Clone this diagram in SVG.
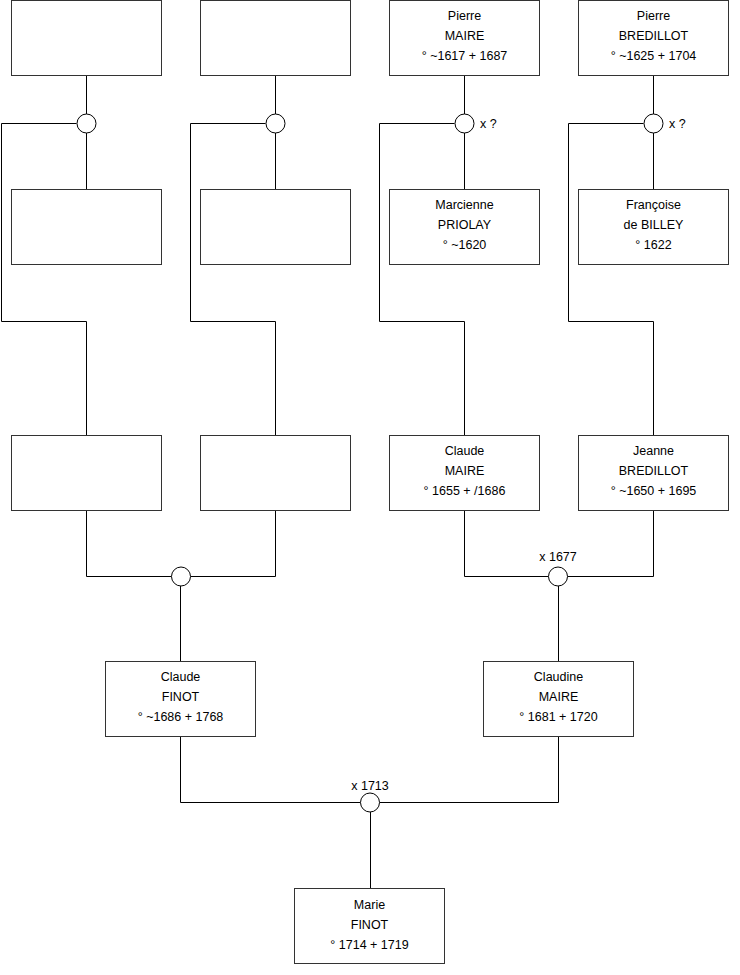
<svg xmlns="http://www.w3.org/2000/svg" width="740" height="975" viewBox="0 0 740 975">
<style>
.box{fill:#fff;stroke:#333;stroke-width:1}
.ln{fill:none;stroke:#000;stroke-width:1}
.ci{fill:#fff;stroke:#000;stroke-width:1}
text{font-family:"Liberation Sans",Arial,sans-serif;font-size:12.5px;fill:#000}
.c{text-anchor:middle}
</style>
<rect width="740" height="975" fill="#fff"/>
<g id="connectors">
<path class="ln" d="M86.5 76V114M86.5 133V189M76.5 123.5H1.5V321.5H86.5V435"/>
<path class="ln" d="M275.5 76V114M275.5 133V189M265.5 123.5H190.5V321.5H275.5V435"/>
<path class="ln" d="M464.5 76V114M464.5 133V189M454.5 123.5H379.5V321.5H464.5V435"/>
<path class="ln" d="M653.5 76V114M653.5 133V189M643.5 123.5H568.5V321.5H653.5V435"/>
<path class="ln" d="M86.5 511V576.5H171.5M190.5 576.5H275.5V511M180.5 586V661"/>
<path class="ln" d="M464.5 511V576.5H548.5M567.5 576.5H653.5V511M558.5 586V661"/>
<path class="ln" d="M180.5 737V802.5H360.5M379.5 802.5H558.5V737M370.5 812V888"/>
<circle class="ci" cx="86.5" cy="123.5" r="9.5"/>
<circle class="ci" cx="275.5" cy="123.5" r="9.5"/>
<circle class="ci" cx="464.5" cy="123.5" r="9.5"/>
<circle class="ci" cx="653.5" cy="123.5" r="9.5"/>
<circle class="ci" cx="181" cy="576.5" r="9.5"/>
<circle class="ci" cx="558" cy="576.5" r="9.5"/>
<circle class="ci" cx="370" cy="802.5" r="9.5"/>
<text x="480" y="128">x ?</text>
<text x="669" y="128">x ?</text>
<text class="c" x="558" y="561">x 1677</text>
<text class="c" x="370" y="790">x 1713</text>
</g>
<g id="n1"><rect class="box" x="11.5" y="0.5" width="150" height="75"/></g>
<g id="n2"><rect class="box" x="200.5" y="0.5" width="150" height="75"/></g>
<g id="n3"><rect class="box" x="389.5" y="0.5" width="150" height="75"/>
<text class="c" x="464.5" y="20">Pierre</text><text class="c" x="464.5" y="40">MAIRE</text><text class="c" x="464.5" y="60">° ~1617 + 1687</text></g>
<g id="n4"><rect class="box" x="578.5" y="0.5" width="150" height="75"/>
<text class="c" x="653.5" y="20">Pierre</text><text class="c" x="653.5" y="40">BREDILLOT</text><text class="c" x="653.5" y="60">° ~1625 + 1704</text></g>
<g id="n5"><rect class="box" x="11.5" y="189.5" width="150" height="75"/></g>
<g id="n6"><rect class="box" x="200.5" y="189.5" width="150" height="75"/></g>
<g id="n7"><rect class="box" x="389.5" y="189.5" width="150" height="75"/>
<text class="c" x="464.5" y="209">Marcienne</text><text class="c" x="464.5" y="229">PRIOLAY</text><text class="c" x="464.5" y="249">° ~1620</text></g>
<g id="n8"><rect class="box" x="578.5" y="189.5" width="150" height="75"/>
<text class="c" x="653.5" y="209">Françoise</text><text class="c" x="653.5" y="229">de BILLEY</text><text class="c" x="653.5" y="249">° 1622</text></g>
<g id="n9"><rect class="box" x="11.5" y="435.5" width="150" height="75"/></g>
<g id="n10"><rect class="box" x="200.5" y="435.5" width="150" height="75"/></g>
<g id="n11"><rect class="box" x="389.5" y="435.5" width="150" height="75"/>
<text class="c" x="464.5" y="455">Claude</text><text class="c" x="464.5" y="475">MAIRE</text><text class="c" x="464.5" y="495">° 1655 + /1686</text></g>
<g id="n12"><rect class="box" x="578.5" y="435.5" width="150" height="75"/>
<text class="c" x="653.5" y="455">Jeanne</text><text class="c" x="653.5" y="475">BREDILLOT</text><text class="c" x="653.5" y="495">° ~1650 + 1695</text></g>
<g id="n13"><rect class="box" x="105.5" y="661.5" width="150" height="75"/>
<text class="c" x="180.5" y="681">Claude</text><text class="c" x="180.5" y="701">FINOT</text><text class="c" x="180.5" y="721">° ~1686 + 1768</text></g>
<g id="n14"><rect class="box" x="483.5" y="661.5" width="150" height="75"/>
<text class="c" x="558.5" y="681">Claudine</text><text class="c" x="558.5" y="701">MAIRE</text><text class="c" x="558.5" y="721">° 1681 + 1720</text></g>
<g id="n15"><rect class="box" x="294.5" y="888.5" width="150" height="75"/>
<text class="c" x="369.5" y="909">Marie</text><text class="c" x="369.5" y="929">FINOT</text><text class="c" x="369.5" y="949">° 1714 + 1719</text></g>
</svg>
